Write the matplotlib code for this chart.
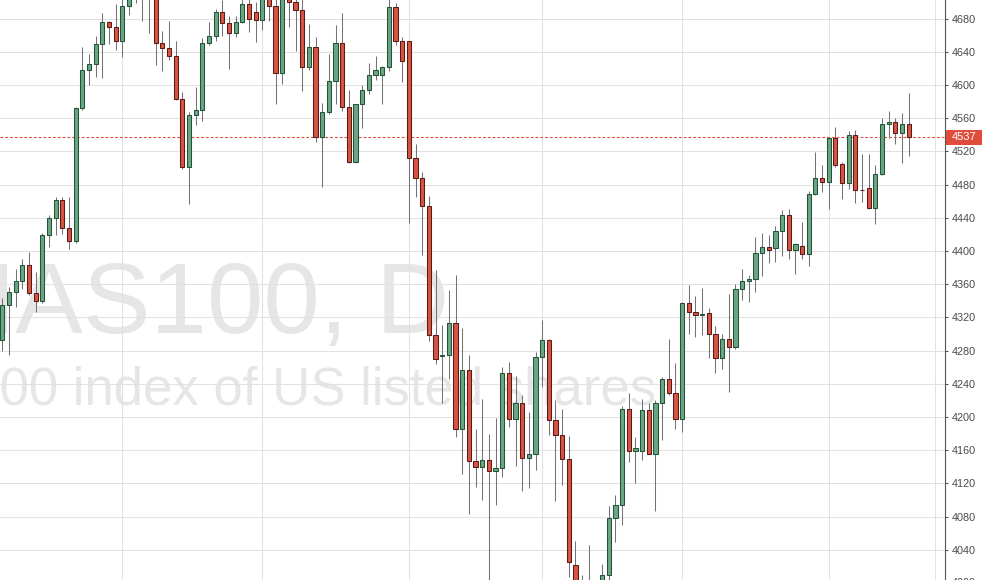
import numpy as np
import matplotlib.pyplot as plt
import matplotlib.transforms as mtransforms
from matplotlib.patches import Rectangle

plt.rcParams['font.family'] = ['Liberation Sans', 'DejaVu Sans']

# daily OHLC, oldest first
opens = [4292.2, 4335.5, 4350.2, 4363.6, 4383.6, 4348.8, 4339.9, 4418.8, 4440.2, 4461.2,
         4428.2, 4412.6, 4571.7, 4617.6, 4624.7, 4648.8, 4675.5, 4670.2, 4652.4, 4694.7,
         4715.0, 4718.0, 4712.0, 4708.0, 4651.0, 4644.3, 4634.5, 4582.8, 4501.7, 4563.2,
         4569.5, 4650.1, 4658.6, 4687.6, 4674.2, 4663.1, 4676.4, 4697.8, 4687.6, 4678.7,
         4708.0, 4695.6, 4614.9, 4706.0, 4700.0, 4689.8, 4622.1, 4645.2, 4537.4, 4567.2,
         4604.2, 4651.0, 4573.0, 4507.1, 4576.6, 4594.0, 4611.4, 4611.4, 4622.1, 4693.4,
         4652.4, 4652.4, 4511.5, 4487.5, 4453.6, 4298.9, 4273.1, 4275.3, 4313.6, 4185.3,
         4256.6, 4147.4, 4139.4, 4148.3, 4134.9, 4138.0, 4253.5, 4197.3, 4217.4, 4150.5,
         4155.9, 4272.2, 4293.1, 4196.0, 4178.6, 4149.6, 4022.1, 3985.0, 3970.0, 3960.0,
         3975.0, 4010.1, 4078.3, 4093.5, 4209.8, 4158.5, 4159.4, 4208.9, 4155.9, 4217.4,
         4246.3, 4228.5, 4198.2, 4336.8, 4327.0, 4323.4, 4325.7, 4300.3, 4271.3, 4293.6,
         4284.7, 4353.7, 4363.6, 4365.8, 4397.0, 4404.6, 4403.7, 4423.7, 4443.8, 4401.4,
         4405.4, 4396.5, 4468.3, 4488.3, 4482.6, 4536.5, 4504.8, 4481.7, 4539.2, 4473.2,
         4475.4, 4451.4, 4492.8, 4552.5, 4555.0, 4541.8, 4552.5]
highs = [4343.5, 4356.9, 4378.3, 4390.3, 4399.2, 4374.7, 4421.5, 4443.8, 4464.7, 4464.7,
         4464.7, 4573.0, 4645.2, 4636.8, 4659.1, 4686.7, 4676.9, 4696.9, 4706.0, 4720.0,
         4730.0, 4728.0, 4720.0, 4712.0, 4664.4, 4676.9, 4652.4, 4590.9, 4567.2, 4597.5,
         4656.4, 4676.4, 4691.1, 4702.0, 4683.6, 4683.6, 4703.0, 4704.0, 4700.0, 4712.0,
         4715.0, 4705.0, 4712.0, 4712.0, 4706.0, 4706.0, 4673.3, 4657.7, 4578.4, 4636.8,
         4672.0, 4686.7, 4594.0, 4577.5, 4599.8, 4626.5, 4634.5, 4622.5, 4703.0, 4698.7,
         4657.7, 4653.0, 4528.5, 4495.0, 4466.1, 4376.9, 4311.4, 4352.4, 4371.6, 4307.8,
         4275.3, 4185.3, 4222.3, 4179.5, 4198.6, 4259.7, 4266.8, 4249.9, 4226.3, 4206.2,
         4278.0, 4316.8, 4294.4, 4220.9, 4209.8, 4177.2, 4050.2, 4009.2, 4045.8, 3998.0,
         4022.6, 4092.6, 4105.9, 4212.9, 4228.9, 4176.4, 4222.3, 4216.5, 4220.0, 4248.5,
         4294.5, 4265.5, 4339.0, 4359.1, 4345.7, 4356.0, 4331.0, 4310.1, 4299.8, 4348.0,
         4360.0, 4377.8, 4371.6, 4417.0, 4421.5, 4419.3, 4429.5, 4449.1, 4450.5, 4409.5,
         4434.9, 4471.9, 4519.5, 4503.1, 4537.0, 4549.4, 4507.1, 4544.1, 4546.3, 4517.3,
         4517.3, 4504.0, 4559.7, 4568.6, 4559.7, 4566.3, 4590.4]
lows = [4279.8, 4274.4, 4332.4, 4354.6, 4347.0, 4327.0, 4337.7, 4404.6, 4419.3, 4420.6,
        4402.8, 4409.9, 4570.4, 4599.8, 4610.0, 4608.7, 4649.7, 4642.1, 4633.2, 4684.5,
        4698.7, 4677.0, 4663.1, 4624.3, 4616.3, 4629.6, 4582.0, 4498.2, 4457.1, 4552.1,
        4557.0, 4647.5, 4653.3, 4658.6, 4619.4, 4657.7, 4674.2, 4663.5, 4651.9, 4666.6,
        4676.9, 4577.5, 4601.6, 4669.7, 4640.8, 4593.1, 4618.5, 4531.6, 4477.2, 4565.0,
        4577.5, 4568.6, 4506.0, 4506.0, 4548.5, 4588.6, 4606.5, 4577.5, 4616.7, 4647.9,
        4603.3, 4434.0, 4465.2, 4394.8, 4291.3, 4263.3, 4216.5, 4245.4, 4175.5, 4131.8,
        4083.7, 4115.7, 4099.7, 3995.0, 4093.5, 4127.3, 4187.5, 4141.6, 4110.4, 4114.9,
        4136.2, 4236.5, 4178.6, 4099.3, 4118.4, 4007.0, 3975.0, 3950.0, 3945.0, 3940.0,
        3965.0, 4002.0, 4049.3, 4070.3, 4146.0, 4120.6, 4148.3, 4155.0, 4087.2, 4171.9,
        4226.3, 4185.3, 4182.2, 4300.3, 4295.8, 4298.9, 4270.8, 4253.5, 4257.9, 4230.7,
        4282.0, 4341.3, 4339.0, 4350.2, 4369.3, 4385.8, 4387.2, 4393.4, 4390.3, 4372.5,
        4390.3, 4382.3, 4467.0, 4471.4, 4450.5, 4501.7, 4462.5, 4475.0, 4458.0, 4459.4,
        4451.0, 4432.6, 4492.0, 4536.5, 4528.5, 4506.2, 4513.8]
closes = [4335.5, 4350.2, 4363.6, 4383.6, 4348.8, 4339.9, 4418.8, 4440.2, 4461.2, 4428.2,
          4412.6, 4571.7, 4617.6, 4624.7, 4648.8, 4675.5, 4670.2, 4652.4, 4694.7, 4712.0,
          4722.0, 4710.0, 4705.0, 4651.0, 4644.3, 4634.5, 4582.8, 4501.7, 4563.2, 4569.5,
          4650.1, 4658.6, 4687.6, 4674.2, 4663.1, 4676.4, 4697.8, 4680.0, 4678.7, 4706.0,
          4695.6, 4614.9, 4706.0, 4700.0, 4689.8, 4622.1, 4645.2, 4537.4, 4567.2, 4604.2,
          4651.0, 4573.0, 4507.1, 4576.6, 4594.0, 4611.4, 4617.6, 4622.1, 4693.4, 4652.4,
          4628.3, 4511.5, 4487.5, 4453.6, 4298.9, 4270.0, 4275.3, 4313.6, 4185.3, 4256.6,
          4147.4, 4139.4, 4148.3, 4134.9, 4138.0, 4253.5, 4197.3, 4217.4, 4150.5, 4155.9,
          4272.2, 4293.1, 4196.0, 4178.6, 4149.6, 4025.7, 3985.0, 3970.0, 3960.0, 3975.0,
          4010.1, 4078.3, 4093.5, 4209.8, 4158.5, 4162.1, 4208.9, 4155.9, 4217.4, 4246.3,
          4228.5, 4198.2, 4336.8, 4327.0, 4323.4, 4323.6, 4300.3, 4271.3, 4293.6, 4284.7,
          4353.7, 4363.6, 4365.8, 4397.0, 4404.6, 4401.4, 4423.7, 4443.8, 4401.4, 4408.1,
          4396.5, 4468.3, 4488.3, 4482.6, 4536.5, 4504.0, 4481.7, 4539.2, 4473.2, 4473.0,
          4451.4, 4492.8, 4552.5, 4555.2, 4541.8, 4552.5, 4537.0]

month_starts = [18, 39, 61, 81, 102, 124, 140]   # candle index of vertical grid lines
price_ticks = list(range(4040, 4681, 40))
last_price = 4537
symbol = "NAS100, D"
description = "NASDAQ 100 index of US listed shares"

UP, DOWN = '#6ba583', '#d75442'
UP_EDGE, DOWN_EDGE = '#225437', '#5b1a13'
WICK = '#737375'
GRID = '#e2e2e2'
PRICE_RED = '#e04c3c'

o = np.array(opens)
h = np.array(highs)
l = np.array(lows)
c = np.array(closes)
x = np.arange(len(o))
up = c >= o

fig = plt.figure(figsize=(9.83, 5.8), dpi=100)
fig.patch.set_facecolor('white')
ax = fig.add_axes([0, 0, 945 / 983, 1])
ax.set_xlim(-0.345, 141.44)
ax.set_ylim(4003.7, 4702.3)

# grid
for t in price_ticks:
    ax.axhline(t, color=GRID, lw=0.75, zorder=1)
for m in month_starts:
    ax.axvline(m, color=GRID, lw=0.75, zorder=1)

# watermark
ax.text(0.207, 0.426, symbol, transform=ax.transAxes, ha='center', va='baseline',
        fontsize=73, color='#e6e6e6', zorder=0.5)
ax.text(0.206, 0.302, description, transform=ax.transAxes, ha='center', va='baseline',
        fontsize=38, color='#e6e6e6', zorder=0.5)

# last price line
ax.axhline(last_price, color=PRICE_RED, lw=0.8, linestyle=(0, (2.5, 1.8)), zorder=2)

# candles
ax.vlines(x, l, h, colors=WICK, lw=0.75, zorder=3)
bottoms = np.minimum(o, c)
heights = np.maximum(np.abs(c - o), 0.3)
ax.bar(x, heights, bottom=bottoms, width=0.62,
       color=np.where(up, UP, DOWN), edgecolor=np.where(up, UP_EDGE, DOWN_EDGE),
       linewidth=0.75, zorder=4)

# axes styling
for s in ['top', 'left', 'bottom']:
    ax.spines[s].set_visible(False)
ax.spines['right'].set_color('#555555')
ax.spines['right'].set_linewidth(0.8)
ax.set_xticks([])
ax.yaxis.tick_right()
ax.set_yticks(price_ticks)
ax.tick_params(axis='y', direction='out', length=2.2, width=0.8, color='#555555',
               labelcolor='#4a4a4a', labelsize=7.8, pad=2.5)

# partly visible label below the view
ax.annotate('4000', xy=(1, 4000), xycoords=('axes fraction', 'data'),
            xytext=(4.7, 0), textcoords='offset points', ha='left', va='center',
            fontsize=7.8, color='#4a4a4a', annotation_clip=False)

# last price tag
blend = mtransforms.blended_transform_factory(ax.transAxes, ax.transData)
ax.add_patch(Rectangle((1.0007, last_price - 9.0), 0.0381, 18.0, transform=blend,
                       facecolor=PRICE_RED, edgecolor='none', clip_on=False, zorder=6))
ax.text(1.0007 + 0.019, last_price, str(last_price), transform=blend, ha='center',
        va='center', fontsize=8, color='white', zorder=7, clip_on=False)

fig.savefig('out.png', dpi=100, facecolor='white')
